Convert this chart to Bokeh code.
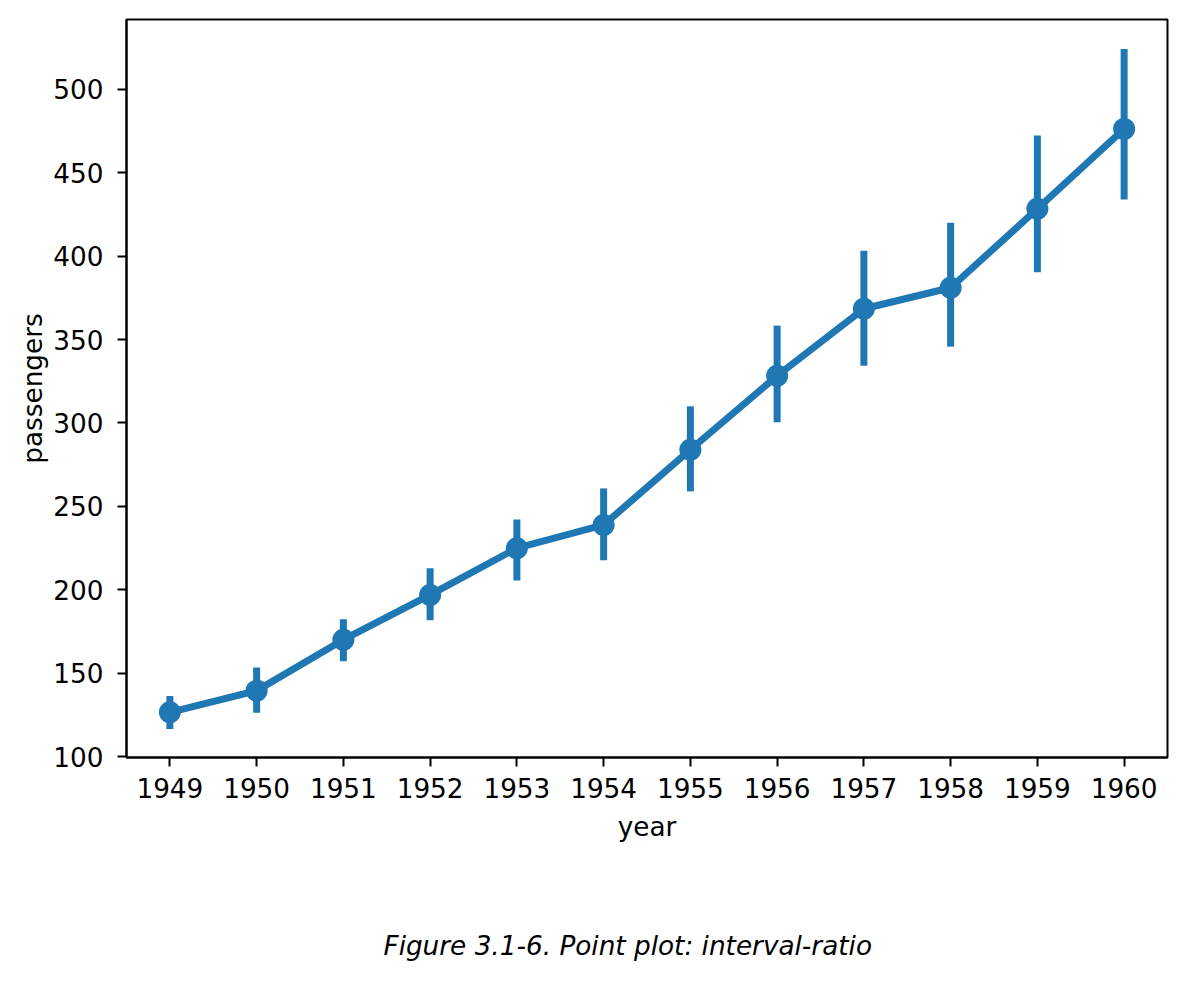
from bokeh.plotting import figure
from bokeh.models import Range1d, FactorRange, ColumnDataSource, Title
from bokeh.embed import file_html
from bokeh.resources import INLINE

years = ["1949", "1950", "1951", "1952", "1953", "1954",
         "1955", "1956", "1957", "1958", "1959", "1960"]
mean_passengers = [126.67, 139.67, 170.17, 197.0, 225.0, 238.92,
                   284.0, 328.25, 368.42, 381.0, 428.33, 476.17]
ci_low = [118.7, 128.5, 159.4, 183.9, 207.8, 219.8,
          261.1, 302.5, 336.4, 347.8, 392.4, 436.0]
ci_high = [134.4, 151.4, 180.3, 210.8, 240.1, 258.7,
           307.9, 356.2, 401.0, 417.8, 470.1, 521.9]
y_ticks = [100, 150, 200, 250, 300, 350, 400, 450, 500]

COLOR = "#1f77b4"
FONT = "DejaVu Sans"
FS = "26.3px"

src = ColumnDataSource(dict(year=years, mean=mean_passengers, lo=ci_low, hi=ci_high))

p = figure(width=1180, height=984, output_backend="svg", toolbar_location=None,
           x_range=FactorRange(factors=years), y_range=Range1d(99.6, 541.7),
           min_border_left=126, min_border_right=13, min_border_top=19,
           min_border_bottom=227)
p.frame_width = 1041
p.frame_height = 738

p.segment(x0="year", y0="lo", x1="year", y1="hi", source=src,
          line_color=COLOR, line_width=7, line_cap="square")
p.line(x="year", y="mean", source=src, line_color=COLOR, line_width=7)
p.scatter(x="year", y="mean", source=src, size=22, fill_color=COLOR,
          line_color=COLOR, line_width=0)

p.xgrid.visible = False
p.ygrid.visible = False
p.outline_line_color = "black"
p.outline_line_width = 2
p.outline_line_alpha = 1
p.background_fill_color = "white"
p.border_fill_color = "white"

p.yaxis.ticker = y_ticks
for ax in (p.xaxis[0], p.yaxis[0]):
    ax.axis_line_color = "black"
    ax.axis_line_width = 2
    ax.major_tick_line_color = "black"
    ax.major_tick_line_width = 2
    ax.major_tick_out = 9
    ax.major_tick_in = 0
    ax.minor_tick_line_color = None
    ax.major_label_text_font = FONT
    ax.major_label_text_font_size = FS
    ax.major_label_text_color = "black"
    ax.axis_label_text_font = FONT
    ax.axis_label_text_font_size = FS
    ax.axis_label_text_font_style = "normal"
    ax.axis_label_text_color = "black"

p.xaxis.axis_label = "year"
p.yaxis.axis_label = "passengers"
p.xaxis.major_label_standoff = 11
p.xaxis.axis_label_standoff = 11
p.yaxis.major_label_standoff = 14
p.yaxis.axis_label_standoff = 2
p.xaxis.group_text_font_size = FS

cap = Title(text="Figure 3.1-6. Point plot: interval-ratio", align="left",
            offset=257, text_font=FONT, text_font_size=FS,
            text_font_style="italic", text_color="black")
if "standoff" in Title.properties():
    cap.standoff = 168
p.add_layout(cap, "below")

open("out.html", "w").write(file_html(p, INLINE))
